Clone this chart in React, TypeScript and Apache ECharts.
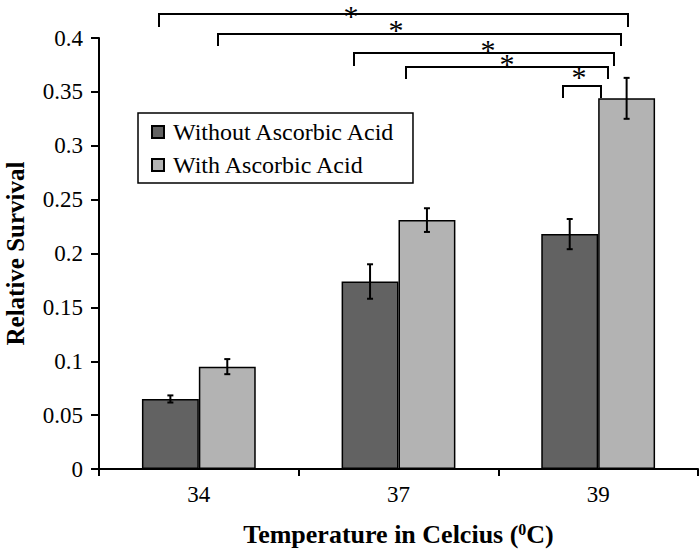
import React, { useEffect, useRef } from "react";
import * as echarts from "echarts";

const categories = ["34", "37", "39"];
const seriesNames = ["Without Ascorbic Acid", "With Ascorbic Acid"];
const withoutValues = [0.065, 0.174, 0.218];
const withoutErrors = [0.0033, 0.016, 0.014];
const withValues = [0.095, 0.231, 0.344];
const withErrors = [0.007, 0.011, 0.019];
const yTicks = { min: 0, max: 0.4, interval: 0.05 };

// significance brackets (annotation, pixel positions): x1, x2, lineY, legBottomY, starX, starY
const brackets = [
  [159, 628, 14, 27, 351, 8],
  [218, 621, 34, 46, 396, 26.5],
  [354, 614, 53, 66, 488, 46.5],
  [406, 608, 67, 79, 507, 61],
  [563, 601, 86, 98, 579, 74],
];

const FONT = "'Liberation Serif', 'Times New Roman', serif";
const BAR_GAP = 0.43;
const STAR_SIZE = 30;

function errorSeries(values: number[], errors: number[], sign: number) {
  return {
    type: "custom",
    silent: true,
    z: 5,
    data: values.map((v, i) => [i, v, errors[i]]),
    renderItem: (params: any, api: any) => {
      const ci = api.value(0);
      const v = api.value(1);
      const e = api.value(2);
      const band = api.size([1, 0])[0];
      const off = ((band * (1 - BAR_GAP)) / 4) * sign;
      const top = api.coord([ci, v + e]);
      const bot = api.coord([ci, v - e]);
      const x = top[0] + off;
      const cap = 3;
      const style = { stroke: "#000", lineWidth: 2 };
      return {
        type: "group",
        children: [
          { type: "line", shape: { x1: x, y1: top[1], x2: x, y2: bot[1] }, style },
          { type: "line", shape: { x1: x - cap, y1: top[1], x2: x + cap, y2: top[1] }, style },
          { type: "line", shape: { x1: x - cap, y1: bot[1], x2: x + cap, y2: bot[1] }, style },
        ],
      };
    },
  };
}

export default function App() {
  const ref = useRef<HTMLDivElement>(null);
  useEffect(() => {
    if (!ref.current) return;
    const chart = echarts.init(ref.current, undefined, { renderer: "svg" });
    const graphics: any[] = [];
    brackets.forEach(([x1, x2, y, yb, sx, sy]) => {
      graphics.push({
        type: "polyline",
        shape: { points: [[x1, yb], [x1, y], [x2, y], [x2, yb]] },
        style: { stroke: "#000", lineWidth: 2, fill: null },
      });
      graphics.push({
        type: "text",
        x: sx,
        y: Math.max(STAR_SIZE / 2, sy + 0.09 * STAR_SIZE),
        style: {
          text: "*",
          font: `${STAR_SIZE}px ${FONT}`,
          fill: "#000",
          textAlign: "center",
          textVerticalAlign: "middle",
        },
      });
    });
    chart.setOption({
      animation: false,
      backgroundColor: "#fff",
      textStyle: { fontFamily: FONT },
      grid: { left: 99, right: 1, top: 38, bottom: 81, containLabel: false, outerBoundsMode: "none" },
      legend: {
        data: seriesNames,
        orient: "vertical",
        left: 138,
        top: 113,
        padding: [7, 17, 6, 13],
        itemWidth: 12,
        itemHeight: 12,
        itemGap: 9,
        icon: "rect",
        borderColor: "#000",
        borderWidth: 1.5,
        backgroundColor: "#fff",
        textStyle: { fontFamily: FONT, fontSize: 24, color: "#000", padding: [0, 0, 0, 4] },
      },
      xAxis: {
        type: "category",
        data: categories,
        name: "Temperature in Celcius ({sup|0}C)",
        nameLocation: "middle",
        nameGap: 52,
        nameTextStyle: {
          fontFamily: FONT,
          fontSize: 26,
          fontWeight: "bold",
          color: "#000",
          rich: {
            sup: { fontFamily: FONT, fontSize: 16, fontWeight: "bold", color: "#000", padding: [0, 0, 10, 0] },
          },
        },
        axisLine: { lineStyle: { color: "#000", width: 2 } },
        axisTick: { show: true, length: 7, lineStyle: { color: "#000", width: 2 } },
        axisLabel: { fontFamily: FONT, fontSize: 23, color: "#000", margin: 14 },
      },
      yAxis: {
        type: "value",
        min: yTicks.min,
        max: yTicks.max,
        interval: yTicks.interval,
        name: "Relative Survival",
        nameLocation: "middle",
        nameGap: 71,
        nameTextStyle: { fontFamily: FONT, fontSize: 25, fontWeight: "bold", color: "#000" },
        axisLine: { show: true, lineStyle: { color: "#000", width: 2 } },
        axisTick: { show: true, length: 8, lineStyle: { color: "#000", width: 2 } },
        axisLabel: { fontFamily: FONT, fontSize: 23, color: "#000", margin: 16 },
        splitLine: { show: false },
      },
      series: [
        {
          name: seriesNames[0],
          type: "bar",
          data: withoutValues,
          barGap: "0%",
          barCategoryGap: `${BAR_GAP * 100}%`,
          itemStyle: { color: "#626262", borderColor: "#000", borderWidth: 1.5 },
        },
        {
          name: seriesNames[1],
          type: "bar",
          data: withValues,
          barGap: "0%",
          barCategoryGap: `${BAR_GAP * 100}%`,
          itemStyle: { color: "#b3b3b3", borderColor: "#000", borderWidth: 1.5 },
        },
        errorSeries(withoutValues, withoutErrors, -1),
        errorSeries(withValues, withErrors, 1),
      ],
      graphic: graphics,
    });
    return () => chart.dispose();
  }, []);
  return <div ref={ref} style={{ width: 699, height: 550, position: "absolute", left: 0, top: 0 }} />;
}
